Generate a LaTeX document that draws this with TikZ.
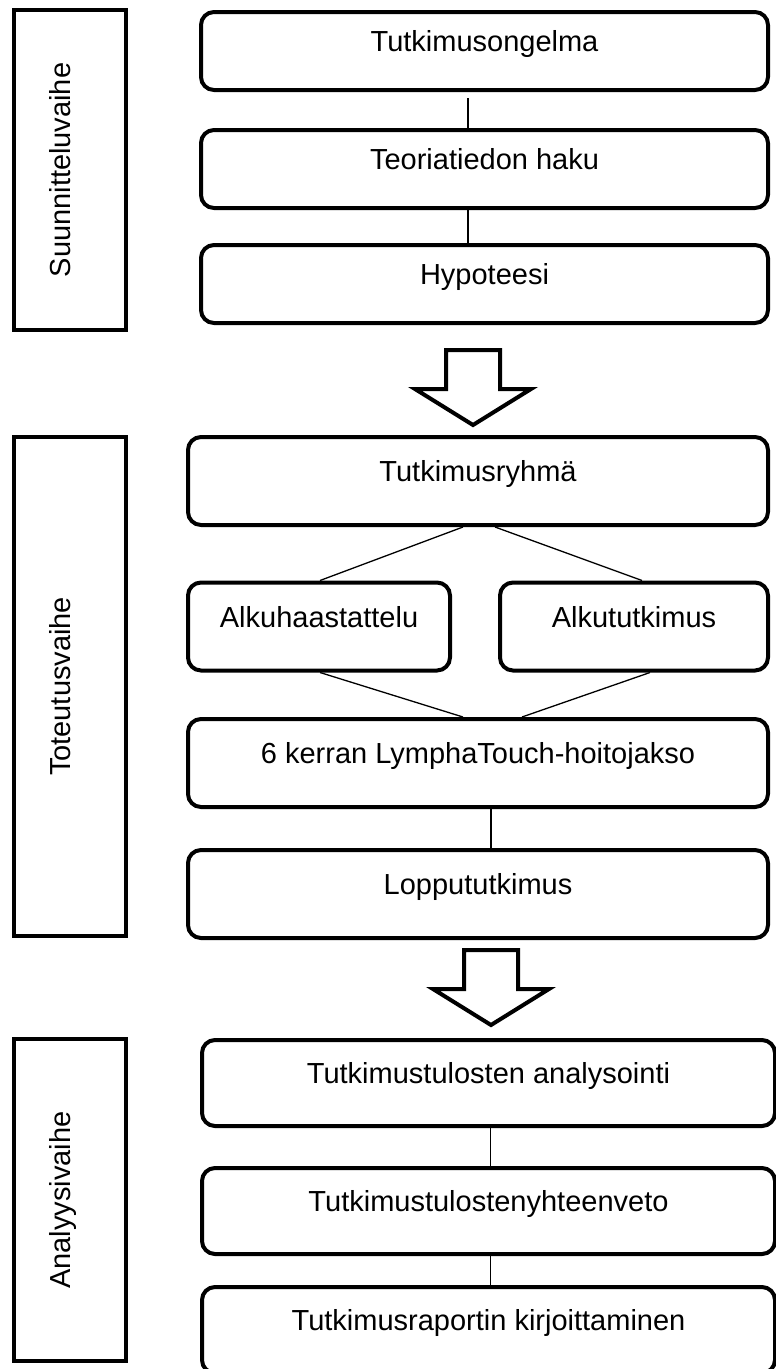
\documentclass[tikz,border=0pt]{standalone}
\usepackage{fontspec}
\setmainfont{Liberation Sans}
\usepackage{tikz}
\tikzset{
box/.style={
  draw,
  line width=4pt,
  rounded corners=13pt,
  inner sep=0pt,
  text height=0.72em,
  text depth=0.55em,
  font=\fontsize{29}{35}\selectfont
},
phase/.style={box,sharp corners,rotate=90},
link/.style={line width=1.3pt},
bigarrow/.style={line width=4pt,line join=miter},
}

\begin{document}
\begin{tikzpicture}[x=1pt,y=-1pt]
\useasboundingbox (0,0) rectangle (776,1369);
% the phases
\node[phase,minimum width=320pt,minimum height=112pt] (suunn) at (70,170) {Suunnitteluvaihe};
\node[phase,minimum width=499pt,minimum height=112pt] (toteut) at (70,686.5) {Toteutusvaihe};
\node[phase,minimum width=322pt,minimum height=112pt] (analv) at (70,1200) {Analyysivaihe};
% the steps
\begin{scope}[every node/.append style={minimum width=567pt,minimum height=78pt}]
\node[box] (ongelma) at (484.5,51) {Tutkimusongelma};
\node[box] (teoria) at (484.5,169) {Teoriatiedon haku};
\node[box] (hypo) at (484.5,284) {Hypoteesi};
\end{scope}
\begin{scope}[every node/.append style={minimum height=88pt}]
\node[box,minimum width=580pt] (ryhma) at (478,481) {Tutkimusryhmä};
\node[box,minimum width=262pt] (haast) at (319,626.5) {Alkuhaastattelu};
\node[box,minimum width=268pt] (alkut) at (634,626.5) {Alkututkimus};
\node[box,minimum width=580pt] (hoito) at (478,763) {6 kerran LymphaTouch-hoitojakso};
\node[box,minimum width=580pt] (loppu) at (478,894) {Loppututkimus};
\end{scope}
\begin{scope}[every node/.append style={minimum width=573pt,minimum height=86pt}]
\node[box] (anal) at (488.5,1083) {Tutkimustulosten analysointi};
\node[box] (yht) at (488.5,1211) {Tutkimustulostenyhteenveto};
\node[box] (raportti) at (488.5,1330) {Tutkimusraportin kirjoittaminen};
\end{scope}
% the links
\draw[link] ([xshift=-16.5pt,yshift=-6pt]ongelma.south) -- ([xshift=-16.5pt]teoria.north);
\draw[link] ([xshift=-16.5pt]teoria.south) -- ([xshift=-16.5pt]hypo.north);
\draw[link] ([xshift=-15pt]ryhma.south) -- ([xshift=1pt]haast.north);
\draw[link] ([xshift=17pt]ryhma.south) -- ([xshift=8pt]alkut.north);
\draw[link] ([xshift=1pt]haast.south) -- ([xshift=-15pt]hoito.north);
\draw[link] ([xshift=16pt]alkut.south) -- ([xshift=44pt]hoito.north);
\draw[link] ([xshift=13pt]hoito.south) -- ([xshift=13pt]loppu.north);
\draw[link] ([xshift=2pt]anal.south) -- ([xshift=2pt]yht.north);
\draw[link] ([xshift=2pt]yht.south) -- ([xshift=2pt]raportti.north);
% the big arrows
\foreach \ax/\ay in {473/348,491/948}
{
  \draw[bigarrow] (\ax-27,\ay+2) -- (\ax-27,\ay+41) -- (\ax-58,\ay+41) --
    (\ax,\ay+77) -- (\ax+58,\ay+41) -- (\ax+27,\ay+41) -- (\ax+27,\ay+2) -- cycle;
}
\end{tikzpicture}
\end{document}
